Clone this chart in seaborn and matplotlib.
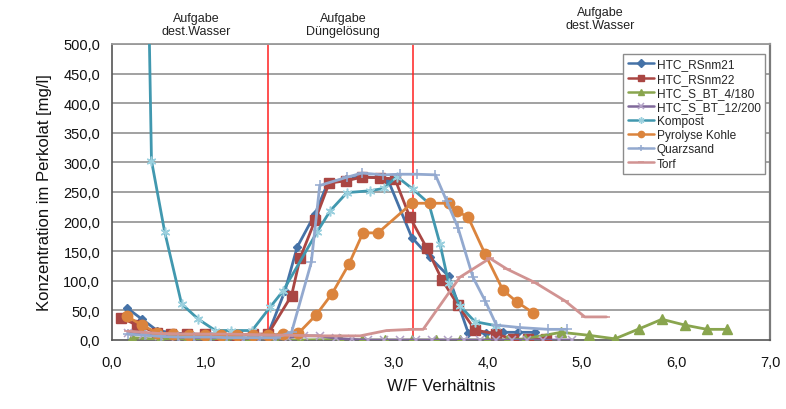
import matplotlib
matplotlib.use("Agg")
import matplotlib.pyplot as plt
import matplotlib.transforms as mtransforms
from matplotlib.ticker import MultipleLocator, FuncFormatter
import numpy as np
import pandas as pd
import seaborn as sns

# --- measured leachate concentrations vs. W/F ratio ---
x_rsnm21 = [0.16, 0.32, 0.48, 0.65, 0.82, 0.99, 1.16, 1.33, 1.50, 1.66, 1.84, 1.97, 2.16, 2.30,
            2.49, 2.66, 2.85, 2.94, 3.19, 3.38, 3.58, 3.79, 3.98, 4.16, 4.32, 4.50]
y_rsnm21 = [54, 35, 16, 12, 10, 9, 9, 9, 9, 10, 83, 157, 213, 267,
            272, 276, 274, 269, 173, 140, 108, 12, 12, 13, 13, 13]

x_rsnm22 = [0.10, 0.27, 0.48, 0.63, 0.80, 0.99, 1.15, 1.33, 1.50, 1.66, 1.91, 2.00, 2.16, 2.31,
            2.49, 2.66, 2.85, 3.01, 3.17, 3.35, 3.51, 3.68, 3.86, 4.09, 4.27, 4.43, 4.62]
y_rsnm22 = [37, 25, 12, 10, 10, 10, 9, 9, 10, 10, 75, 138, 202, 265,
            269, 275, 274, 272, 207, 155, 102, 59, 17, 10, 1, 1, 1]

x_bt4180 = [0.21, 0.51, 0.80, 1.02, 1.21, 1.45, 1.73, 2.00, 2.43, 2.66, 2.90, 3.19, 3.45,
            3.70, 3.99, 4.20, 4.39, 4.78, 5.07, 5.35, 5.61, 5.85, 6.10, 6.33, 6.54]
y_bt4180 = [4, 1, 1, 0, 0, 0, 0, 0, 1, 0, 0, 0, 0,
            0, 0, 0, 2, 13, 8, 2, 19, 35, 25, 18, 18]

x_bt12200 = [0.17, 0.33, 0.50, 0.68, 0.85, 1.02, 1.19, 1.36, 1.53, 1.70, 1.87, 2.04, 2.21, 2.38,
             2.55, 2.72, 2.89, 3.06, 3.23, 3.40, 3.57, 3.74, 3.91, 4.08, 4.25, 4.42, 4.59, 4.76, 4.89]
y_bt12200 = [12, 9, 7, 5, 4, 4, 4, 3, 3, 3, 4, 7, 7, 3,
             1, 0, 0, 0, 0, 0, 0, 0, 0, 0, 0, 0, 0, 0, 0]

x_kompost = [0.26, 0.42, 0.56, 0.74, 0.92, 1.10, 1.27, 1.49, 1.68, 1.82, 2.18, 2.32, 2.50,
             2.74, 2.89, 3.03, 3.20, 3.37, 3.49, 3.58, 3.70, 3.86, 4.09]
y_kompost = [1750, 303, 183, 61, 35, 16, 16, 16, 55, 83, 182, 218, 249,
             252, 256, 276, 255, 231, 162, 97, 58, 31, 24]

x_pyrolyse = [0.16, 0.32, 0.48, 0.65, 0.82, 0.99, 1.16, 1.33, 1.50, 1.66, 1.82, 1.98, 2.17,
              2.34, 2.52, 2.67, 2.83, 3.19, 3.38, 3.58, 3.67, 3.79, 3.97, 4.16, 4.31, 4.48]
y_pyrolyse = [40, 25, 12, 10, 8, 8, 8, 8, 9, 9, 10, 11, 42,
              78, 128, 181, 181, 231, 231, 231, 218, 207, 145, 84, 64, 46]

x_quarz = [0.17, 0.35, 0.52, 0.70, 0.87, 1.05, 1.22, 1.40, 1.57, 1.74, 1.91, 2.12, 2.21, 2.50,
           2.66, 2.88, 3.06, 3.24, 3.44, 3.56, 3.68, 3.84, 3.97, 4.09, 4.34, 4.64, 4.84]
y_quarz = [10, 8, 6, 5, 5, 5, 4, 4, 4, 4, 13, 131, 261, 275,
           282, 279, 280, 280, 279, 235, 190, 106, 66, 25, 21, 18, 18]

x_torf = [0.17, 0.50, 0.85, 1.20, 1.55, 1.90, 2.20, 2.64, 2.92, 3.19, 3.31, 3.70, 4.02,
          4.20, 4.50, 4.82, 5.03, 5.26]
y_torf = [15, 11, 10, 10, 9, 8, 7, 7, 16, 18, 18, 106, 138,
          120, 97, 66, 39, 39]

series_names = ["HTC_RSnm21", "HTC_RSnm22", "HTC_S_BT_4/180", "HTC_S_BT_12/200",
                "Kompost", "Pyrolyse Kohle", "Quarzsand", "Torf"]

# phase changes (application of water / nutrient solution)
phase_x = [1.66, 3.20]
phase_labels = ["Aufgabe\ndest.Wasser", "Aufgabe\nDüngelösung", "Aufgabe\ndest.Wasser"]
phase_label_x = [0.90, 2.46, 5.19]

y_ticks = np.arange(0, 501, 50)
x_ticks = np.arange(0, 7.01, 1.0)

# --- long-format table ---
xs = [x_rsnm21, x_rsnm22, x_bt4180, x_bt12200, x_kompost, x_pyrolyse, x_quarz, x_torf]
ys = [y_rsnm21, y_rsnm22, y_bt4180, y_bt12200, y_kompost, y_pyrolyse, y_quarz, y_torf]
df = pd.concat([pd.DataFrame({"W/F": x, "Konz": y, "Probe": n})
                for x, y, n in zip(xs, ys, series_names)], ignore_index=True)

styles = {
    "HTC_RSnm21":      dict(color="#4572A7", marker="D", markersize=4.5, mec="#4572A7", mew=1),
    "HTC_RSnm22":      dict(color="#AA4643", marker="s", markersize=6.5, mec="#AA4643", mew=1),
    "HTC_S_BT_4/180":  dict(color="#89A54E", marker="^", markersize=6.5, mec="#89A54E", mew=1),
    "HTC_S_BT_12/200": dict(color="#80699B", marker="x", markersize=5.5, mec="#B3A2C7", mew=1.1),
    "Kompost":         dict(color="#4198AF", marker=(6, 2, 0), markersize=7, mec="#9BD0DE", mew=1.1),
    "Pyrolyse Kohle":  dict(color="#DB843D", marker="o", markersize=7.5, mec="#DB843D", mew=1),
    "Quarzsand":       dict(color="#93A9CF", marker="+", markersize=7, mec="#93A9CF", mew=1.1),
    "Torf":            dict(color="#D19392", marker="_", markersize=6, mec="#D19392", mew=1.1),
}

sns.set_style("white")
plt.rcParams["font.family"] = ["Liberation Sans", "DejaVu Sans"]

fig = plt.figure(figsize=(7.86, 4.10), dpi=100)
ax = fig.add_axes([112 / 786, 69 / 410, 658 / 786, 296 / 410])

grid_col = "#9A9A9A"
for yv in y_ticks[1:]:
    ax.axhline(yv, color=grid_col, lw=1.3, zorder=0)

for n in series_names:
    st = styles[n]
    sub = df[df["Probe"] == n]
    sns.lineplot(data=sub, x="W/F", y="Konz", ax=ax, sort=False, estimator=None,
                 color=st["color"], lw=2.0, marker=st["marker"], markersize=st["markersize"],
                 markeredgecolor=st["mec"], markeredgewidth=st["mew"],
                 markerfacecolor=st["color"], label=n, zorder=3, clip_on=True)

for px in phase_x:
    ax.axvline(px, color="#FF2020", lw=1.1, zorder=2)

trans = mtransforms.blended_transform_factory(ax.transData, ax.transAxes)
label_y = [1.025, 1.025, 1.045]
for lx, ly, lt in zip(phase_label_x, label_y, phase_labels):
    ax.text(lx, ly, lt, transform=trans, ha="center", va="bottom", fontsize=9,
            color="#222222", linespacing=1.1)

ax.set_xlim(0, 7.0)
ax.set_ylim(0, 500)
ax.set_yticks(y_ticks)
ax.set_xticks(x_ticks)
ax.xaxis.set_minor_locator(MultipleLocator(0.1))
comma = FuncFormatter(lambda v, p: f"{v:.1f}".replace(".", ","))
ax.xaxis.set_major_formatter(comma)
ax.yaxis.set_major_formatter(comma)
ax.tick_params(axis="both", which="major", labelsize=10.5, colors="#404040",
               labelcolor="#111111", length=5, width=1, direction="out")
ax.tick_params(axis="x", which="minor", length=3, width=0.8, direction="in", colors="#404040")
ax.tick_params(axis="x", which="major", pad=6)

for s in ["left", "bottom"]:
    ax.spines[s].set_color("#555555")
    ax.spines[s].set_linewidth(1.2)
ax.spines["right"].set_color("#7A7A7A")
ax.spines["right"].set_linewidth(1.6)
ax.spines["top"].set_color(grid_col)
ax.spines["top"].set_linewidth(1.3)

ax.set_xlabel("W/F Verhältnis", fontsize=12, labelpad=6, color="#111111")
ax.set_ylabel("Konzentration im Perkolat [mg/l]", fontsize=12, labelpad=8, color="#111111")

leg = ax.legend(loc="upper right", bbox_to_anchor=(0.993, 0.967), fontsize=8.6,
                frameon=True, fancybox=False, edgecolor="#8C8C8C", framealpha=1,
                handlelength=2.2, handletextpad=0.2, labelspacing=0.18,
                borderpad=0.4, borderaxespad=0)
leg.get_frame().set_linewidth(1.0)
for line in leg.get_lines():
    line.set_linewidth(1.8)
    line.set_markersize(4.5)

fig.savefig("out.png", dpi=100)
